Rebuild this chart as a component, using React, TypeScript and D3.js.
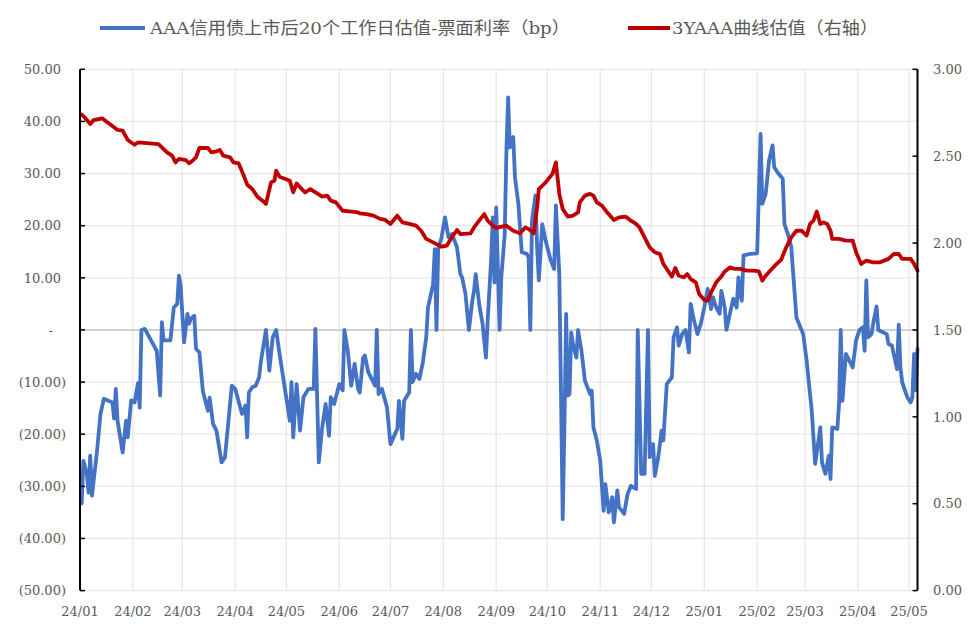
import React from 'react';
import * as d3 from 'd3';

// AAA信用债上市后20个工作日估值-票面利率（bp），左轴
const blueDates = [
  '2024-01-02', '2024-01-03', '2024-01-05', '2024-01-06', '2024-01-07', '2024-01-08', '2024-01-11', '2024-01-13',
  '2024-01-15', '2024-01-20', '2024-01-21', '2024-01-22', '2024-01-23', '2024-01-26', '2024-01-28', '2024-01-29',
  '2024-01-31', '2024-02-02', '2024-02-04', '2024-02-05', '2024-02-06', '2024-02-08', '2024-02-15', '2024-02-17',
  '2024-02-18', '2024-02-19', '2024-02-23', '2024-02-25', '2024-02-27', '2024-02-28', '2024-02-29', '2024-03-02',
  '2024-03-04', '2024-03-05', '2024-03-06', '2024-03-08', '2024-03-09', '2024-03-11', '2024-03-13', '2024-03-16',
  '2024-03-17', '2024-03-19', '2024-03-21', '2024-03-24', '2024-03-26', '2024-03-30', '2024-04-01', '2024-04-05',
  '2024-04-07', '2024-04-08', '2024-04-09', '2024-04-11', '2024-04-13', '2024-04-15', '2024-04-16', '2024-04-19',
  '2024-04-21', '2024-04-23', '2024-04-25', '2024-04-27', '2024-05-03', '2024-05-04', '2024-05-05', '2024-05-07',
  '2024-05-09', '2024-05-11', '2024-05-14', '2024-05-17', '2024-05-18', '2024-05-20', '2024-05-22', '2024-05-24',
  '2024-05-26', '2024-05-27', '2024-05-29', '2024-06-01', '2024-06-03', '2024-06-04', '2024-06-06', '2024-06-08',
  '2024-06-10', '2024-06-12', '2024-06-13', '2024-06-15', '2024-06-16', '2024-06-18', '2024-06-22', '2024-06-23',
  '2024-06-24', '2024-06-26', '2024-06-29', '2024-07-01', '2024-07-05', '2024-07-06', '2024-07-08', '2024-07-09',
  '2024-07-12', '2024-07-13', '2024-07-14', '2024-07-16', '2024-07-18', '2024-07-20', '2024-07-22', '2024-07-23',
  '2024-07-26', '2024-07-27', '2024-07-28', '2024-07-29', '2024-07-31', '2024-08-02', '2024-08-04', '2024-08-06',
  '2024-08-09', '2024-08-11', '2024-08-12', '2024-08-14', '2024-08-16', '2024-08-18', '2024-08-19', '2024-08-20',
  '2024-08-22', '2024-08-24', '2024-08-26', '2024-08-27', '2024-08-29', '2024-08-30', '2024-08-31', '2024-09-01',
  '2024-09-03', '2024-09-04', '2024-09-06', '2024-09-07', '2024-09-08', '2024-09-09', '2024-09-11', '2024-09-12',
  '2024-09-14', '2024-09-16', '2024-09-19', '2024-09-20', '2024-09-21', '2024-09-22', '2024-09-24', '2024-09-25',
  '2024-09-26', '2024-09-28', '2024-09-30', '2024-10-03', '2024-10-05', '2024-10-06', '2024-10-08', '2024-10-09',
  '2024-10-10', '2024-10-11', '2024-10-12', '2024-10-13', '2024-10-14', '2024-10-15', '2024-10-16', '2024-10-17',
  '2024-10-18', '2024-10-19', '2024-10-21', '2024-10-23', '2024-10-26', '2024-10-27', '2024-10-28', '2024-10-30',
  '2024-11-01', '2024-11-03', '2024-11-04', '2024-11-06', '2024-11-08', '2024-11-09', '2024-11-11', '2024-11-12',
  '2024-11-15', '2024-11-17', '2024-11-19', '2024-11-22', '2024-11-23', '2024-11-25', '2024-11-27', '2024-11-29',
  '2024-11-30', '2024-12-02', '2024-12-03', '2024-12-05', '2024-12-07', '2024-12-08', '2024-12-10', '2024-12-13',
  '2024-12-14', '2024-12-16', '2024-12-17', '2024-12-19', '2024-12-21', '2024-12-23', '2024-12-24', '2024-12-26',
  '2024-12-28', '2024-12-30', '2025-01-01', '2025-01-03', '2025-01-05', '2025-01-06', '2025-01-08', '2025-01-10',
  '2025-01-11', '2025-01-13', '2025-01-14', '2025-01-16', '2025-01-18', '2025-01-20', '2025-01-21', '2025-01-22',
  '2025-01-23', '2025-01-24', '2025-01-28', '2025-02-01', '2025-02-03', '2025-02-04', '2025-02-06', '2025-02-08',
  '2025-02-10', '2025-02-11', '2025-02-13', '2025-02-16', '2025-02-17', '2025-02-19', '2025-02-21', '2025-02-23',
  '2025-02-24', '2025-02-28', '2025-03-02', '2025-03-05', '2025-03-07', '2025-03-10', '2025-03-11', '2025-03-13',
  '2025-03-15', '2025-03-16', '2025-03-17', '2025-03-20', '2025-03-21', '2025-03-22', '2025-03-23', '2025-03-25',
  '2025-03-27', '2025-03-29', '2025-03-31', '2025-04-02', '2025-04-04', '2025-04-05', '2025-04-06', '2025-04-07',
  '2025-04-09', '2025-04-10', '2025-04-12', '2025-04-13', '2025-04-16', '2025-04-18', '2025-04-19', '2025-04-21',
  '2025-04-24', '2025-04-25', '2025-04-26', '2025-04-27', '2025-04-30', '2025-05-02', '2025-05-03', '2025-05-04',
  '2025-05-05', '2025-05-06',
];
const blueValues = [
  -33.3, -25.1, -27.6, -31.2, -24.1, -31.8, -23.2, -16.1,
  -13.2, -13.9, -17, -11.3, -17.4, -23.5, -17.4, -20.6,
  -13.5, -13.9, -10.2, -14.9, 0, 0.2, -4, -12.6,
  1.5, -2, -2, 4.3, 5, 10.4, 8.5, -2.4,
  3.1, 1.2, 2.2, 2.7, -3.6, -4.3, -11.7, -15.5,
  -13, -18, -19.3, -25.4, -24.4, -10.7, -11.3, -16.1,
  -14.5, -20.6, -12, -11, -10.7, -9.1, -6.2, 0,
  -7.8, -1.4, 0, -4.6, -17.4, -10, -20.6, -10.4,
  -19.3, -12.9, -11.3, -11.3, 0.2, -25.4, -18.7, -14.2,
  -20.3, -12.9, -14.2, -10.4, -11.6, 0, -4, -10.7,
  -6.5, -11.3, -12, -5.3, -4.9, -8.1, -10.7, 0,
  -12.3, -11.3, -14.9, -21.9, -19, -13.6, -20.9, -13.6,
  -12, 0, -10, -8.4, -9.4, -6.2, -1.4, 4.3,
  8.8, 15.5, 0, 15.5, 17.8, 21.6, 17.8, 18.4,
  15.9, 10.7, 10.1, 6.9, 0, 5.6, 7.5, 10.7,
  5, 1.2, -5.3, 1.8, 13.3, 21.6, 9.1, 23.5,
  0, 10.1, 18.4, 34.4, 44.6, 35, 37, 29.3,
  24.2, 14.9, 14.6, 13.9, 0, 21, 25.8, 15.9,
  9.5, 20.3, 17.1, 13.3, 11.7, 23.9, 10.7, -12.3,
  -36.3, -18.7, 3.1, -12.6, -12.3, -0.5, -2.7, -4,
  -5.3, 0, -4, -9.7, -12.3, -11.6, -18.7, -21.2,
  -25.1, -34.7, -29.6, -35, -32.1, -36.9, -30.8, -34,
  -35.3, -31.5, -29.9, -30.5, 0, -27.6, -27.6, 0,
  -24.4, -21.9, -28, -24.4, -19.3, -21.2, -10.4, -9.1,
  -1.4, 0.5, -3, -0.8, 0, -4.3, 5, 1.8,
  -0.8, 1.2, 4.3, 7.9, 4, 6.3, 4.3, 3.1,
  7.5, 4.3, 0, 3.1, 6, 4.3, 10.1, 6.9,
  5.6, 14.3, 14.6, 14.7, 37.6, 24.2, 26.1, 32.5,
  35.4, 31.2, 30.2, 29, 20.3, 18.4, 15.9, 6.9,
  2.4, -0.8, -5.9, -15.5, -25.7, -18.7, -25.4, -27.6,
  -24.1, -28.6, -18.7, -19, -14.2, 0, -13.6, -4.6,
  -5.9, -7.2, -2, 0, 0.5, -4, 9.5, -1.4,
  -0.8, 1.2, 4.5, 0, -0.5, -0.8, -2.7, -3,
  -7.5, 1, -7.2, -10, -12.9, -13.9, -12.9, -4.6,
  -11.6, -3.6,
];

// 3YAAA曲线估值（右轴）
const redDates = [
  '2024-01-02', '2024-01-04', '2024-01-07', '2024-01-09', '2024-01-14', '2024-01-17', '2024-01-21', '2024-01-23',
  '2024-01-26', '2024-01-29', '2024-02-02', '2024-02-04', '2024-02-16', '2024-02-18', '2024-02-21', '2024-02-24',
  '2024-02-26', '2024-02-28', '2024-03-03', '2024-03-05', '2024-03-07', '2024-03-09', '2024-03-11', '2024-03-16',
  '2024-03-18', '2024-03-21', '2024-03-23', '2024-03-25', '2024-03-29', '2024-03-31', '2024-04-03', '2024-04-06',
  '2024-04-08', '2024-04-11', '2024-04-14', '2024-04-17', '2024-04-19', '2024-04-22', '2024-04-24', '2024-04-25',
  '2024-04-27', '2024-05-03', '2024-05-05', '2024-05-07', '2024-05-10', '2024-05-12', '2024-05-15', '2024-05-19',
  '2024-05-22', '2024-05-25', '2024-05-27', '2024-05-30', '2024-06-03', '2024-06-07', '2024-06-12', '2024-06-13',
  '2024-06-17', '2024-06-21', '2024-06-25', '2024-06-28', '2024-07-01', '2024-07-05', '2024-07-08', '2024-07-12',
  '2024-07-16', '2024-07-19', '2024-07-22', '2024-07-26', '2024-07-31', '2024-08-03', '2024-08-06', '2024-08-09',
  '2024-08-11', '2024-08-17', '2024-08-19', '2024-08-22', '2024-08-25', '2024-08-27', '2024-08-30', '2024-09-01',
  '2024-09-07', '2024-09-11', '2024-09-15', '2024-09-18', '2024-09-20', '2024-09-23', '2024-09-25', '2024-09-26',
  '2024-09-30', '2024-10-04', '2024-10-06', '2024-10-08', '2024-10-10', '2024-10-13', '2024-10-16', '2024-10-19',
  '2024-10-20', '2024-10-23', '2024-10-26', '2024-10-28', '2024-10-30', '2024-11-02', '2024-11-05', '2024-11-09',
  '2024-11-12', '2024-11-16', '2024-11-19', '2024-11-22', '2024-11-24', '2024-11-27', '2024-11-30', '2024-12-03',
  '2024-12-06', '2024-12-08', '2024-12-10', '2024-12-13', '2024-12-15', '2024-12-17', '2024-12-20', '2024-12-22',
  '2024-12-24', '2024-12-27', '2024-12-29', '2025-01-01', '2025-01-03', '2025-01-05', '2025-01-08', '2025-01-11',
  '2025-01-13', '2025-01-16', '2025-01-19', '2025-01-22', '2025-01-26', '2025-01-30', '2025-02-02', '2025-02-04',
  '2025-02-06', '2025-02-09', '2025-02-12', '2025-02-15', '2025-02-18', '2025-02-21', '2025-02-24', '2025-02-27',
  '2025-03-02', '2025-03-04', '2025-03-06', '2025-03-08', '2025-03-10', '2025-03-12', '2025-03-14', '2025-03-16',
  '2025-03-17', '2025-03-21', '2025-03-25', '2025-03-29', '2025-03-31', '2025-04-03', '2025-04-06', '2025-04-10',
  '2025-04-14', '2025-04-19', '2025-04-22', '2025-04-25', '2025-04-27', '2025-05-02', '2025-05-04', '2025-05-06',
];
const redValues = [
  2.74, 2.72, 2.685, 2.708, 2.718, 2.695, 2.666, 2.651,
  2.647, 2.593, 2.566, 2.579, 2.57, 2.551, 2.522, 2.503,
  2.464, 2.484, 2.478, 2.459, 2.474, 2.493, 2.547, 2.547,
  2.522, 2.528, 2.536, 2.503, 2.493, 2.464, 2.459, 2.388,
  2.336, 2.311, 2.267, 2.244, 2.225, 2.349, 2.359, 2.417,
  2.382, 2.359, 2.292, 2.343, 2.311, 2.292, 2.311, 2.286,
  2.267, 2.273, 2.244, 2.234, 2.186, 2.182, 2.177, 2.171,
  2.167, 2.158, 2.139, 2.133, 2.11, 2.158, 2.119, 2.11,
  2.1, 2.071, 2.024, 2.004, 1.979, 1.985, 2.033, 2.075,
  2.052, 2.056, 2.09, 2.129, 2.167, 2.129, 2.1, 2.087,
  2.1, 2.071, 2.056, 2.09, 2.081, 2.056, 2.205, 2.311,
  2.349, 2.398, 2.464, 2.283, 2.196, 2.152, 2.158, 2.177,
  2.234, 2.273, 2.283, 2.273, 2.234, 2.215, 2.177, 2.133,
  2.148, 2.152, 2.129, 2.11, 2.09, 2.033, 1.975, 1.947,
  1.937, 1.88, 1.851, 1.807, 1.857, 1.812, 1.803, 1.822,
  1.793, 1.774, 1.707, 1.673, 1.669, 1.716, 1.774, 1.807,
  1.837, 1.86, 1.851, 1.851, 1.841, 1.841, 1.837, 1.784,
  1.812, 1.845, 1.876, 1.903, 1.975, 2.033, 2.071, 2.071,
  2.043, 2.11, 2.129, 2.182, 2.11, 2.119, 2.11, 2.071,
  2.024, 2.024, 2.014, 2.014, 1.947, 1.88, 1.899, 1.889,
  1.889, 1.909, 1.937, 1.937, 1.909, 1.909, 1.88, 1.841,
];

const leftTicks = [50, 40, 30, 20, 10, 0, -10, -20, -30, -40, -50];
const rightTicks = [3, 2.5, 2, 1.5, 1, 0.5, 0];
const monthTicks = [
  '2024-01-01', '2024-02-01', '2024-03-01', '2024-04-01', '2024-05-01', '2024-06-01', '2024-07-01', '2024-08-01',
  '2024-09-01', '2024-10-01', '2024-11-01', '2024-12-01', '2025-01-01', '2025-02-01', '2025-03-01', '2025-04-01',
  '2025-05-01',
];
const dateStart = '2024-01-01';
const dateEnd = '2025-05-06';

const legendBlue = 'AAA信用债上市后20个工作日估值-票面利率（bp）';
const legendRed = '3YAAA曲线估值（右轴）';

const WIDTH = 980;
const HEIGHT = 634;
const margin = { l: 80, r: 62.5, t: 69.3, b: 43.4 };

const BLUE = '#4472C4';
const RED = '#C00000';
const GRID = '#E8E8E8';
const TEXT = '#595959';
const FONT = '"DejaVu Serif", "Noto Sans CJK SC", serif';

const parse = d3.timeParse('%Y-%m-%d');

const leftFmt = (v: number) => {
  if (v === 0) return '-';
  const s = Math.abs(v).toFixed(2);
  return v < 0 ? `(${s})` : s;
};

const App = () => {
  const x0 = margin.l;
  const x1 = WIDTH - margin.r;
  const y0 = margin.t;
  const y1 = HEIGHT - margin.b;

  const xScale = d3
    .scaleTime()
    .domain([parse(dateStart) as Date, parse(dateEnd) as Date])
    .range([x0, x1]);
  const yLeft = d3.scaleLinear().domain([-50, 50]).range([y1, y0]);
  const yRight = d3.scaleLinear().domain([0, 3]).range([y1, y0]);

  const bluePts: [Date, number][] = blueDates.map((d, i) => [parse(d) as Date, blueValues[i]]);
  const redPts: [Date, number][] = redDates.map((d, i) => [parse(d) as Date, redValues[i]]);

  const blueLine = d3
    .line<[Date, number]>()
    .x((d) => xScale(d[0]))
    .y((d) => yLeft(d[1]));
  const redLine = d3
    .line<[Date, number]>()
    .x((d) => xScale(d[0]))
    .y((d) => yRight(d[1]));

  const months = monthTicks.map((m) => parse(m) as Date);
  const fmtMonth = d3.timeFormat('%y/%m');

  return (
    <svg
      width={WIDTH}
      height={HEIGHT}
      viewBox={`0 0 ${WIDTH} ${HEIGHT}`}
      style={{ position: 'absolute', left: 0, top: 0, background: '#fff' }}
      fontFamily={FONT}
    >
      <rect x={0} y={0} width={WIDTH} height={HEIGHT} fill="#fff" />

      {/* gridlines */}
      {leftTicks.map((t) => (
        <line key={`h${t}`} x1={x0} x2={x1} y1={yLeft(t)} y2={yLeft(t)} stroke={GRID} strokeWidth={1.3} />
      ))}
      {months.map((m, i) => (
        <line key={`v${i}`} x1={xScale(m)} x2={xScale(m)} y1={y0} y2={y1} stroke={GRID} strokeWidth={1.3} />
      ))}
      {/* zero line */}
      <line x1={x0} x2={x1} y1={yLeft(0)} y2={yLeft(0)} stroke="#D0D0D0" strokeWidth={2} />

      {/* series: red sits on top of blue */}
      <path d={blueLine(bluePts) || ''} fill="none" stroke={BLUE} strokeWidth={3.8} strokeLinejoin="round" strokeLinecap="round" />
      <path d={redLine(redPts) || ''} fill="none" stroke={RED} strokeWidth={3.8} strokeLinejoin="round" strokeLinecap="round" />

      {/* left axis */}
      <line x1={x0} x2={x0} y1={y0} y2={y1} stroke="#000" strokeWidth={2} />
      {leftTicks.map((t) => (
        <g key={`l${t}`}>
          <line x1={x0} x2={x0 + 5} y1={yLeft(t)} y2={yLeft(t)} stroke="#000" strokeWidth={1.5} />
          <text
            x={t === 0 ? 53 : t < 0 ? 66 : 61}
            y={yLeft(t)}
            dy="0.36em"
            textAnchor="end"
            fontSize={13}
            fill={TEXT}
          >
            {leftFmt(t)}
          </text>
        </g>
      ))}

      {/* right axis */}
      <line x1={x1} x2={x1} y1={y0} y2={y1} stroke="#000" strokeWidth={2} />
      {rightTicks.map((t) => (
        <g key={`r${t}`}>
          <line x1={x1 - 5} x2={x1} y1={yRight(t)} y2={yRight(t)} stroke="#000" strokeWidth={1.5} />
          <text x={933} y={yRight(t)} dy="0.36em" textAnchor="start" fontSize={13} fill={TEXT}>
            {t.toFixed(2)}
          </text>
        </g>
      ))}

      {/* x labels */}
      {months.map((m, i) => (
        <text key={`x${i}`} x={xScale(m)} y={616} textAnchor="middle" fontSize={13} fill={TEXT}>
          {fmtMonth(m)}
        </text>
      ))}

      {/* legend */}
      <line x1={100} x2={145} y1={28} y2={28} stroke={BLUE} strokeWidth={4} />
      <text x={150} y={28} dy="0.36em" fontSize={17} fill={TEXT} textLength={420} lengthAdjust="spacingAndGlyphs">
        {legendBlue}
      </text>
      <line x1={628} x2={670} y1={28} y2={28} stroke={RED} strokeWidth={4} />
      <text x={672} y={28} dy="0.36em" fontSize={17} fill={TEXT} textLength={206} lengthAdjust="spacingAndGlyphs">
        {legendRed}
      </text>
    </svg>
  );
};

export default App;
